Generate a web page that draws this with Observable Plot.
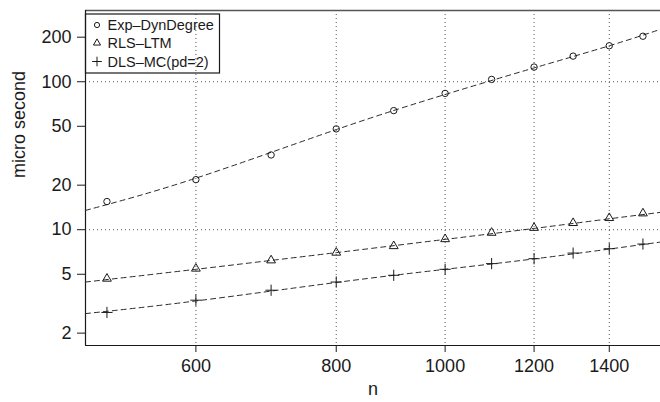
<!DOCTYPE html>
<html>
<head>
<meta charset="utf-8">
<script src="https://cdn.jsdelivr.net/npm/d3@7"></script>
<script src="https://cdn.jsdelivr.net/npm/@observablehq/plot@0.6"></script>
<style>
  html, body { margin: 0; padding: 0; background: #fff; overflow: hidden; }
  #chart { position: relative; width: 660px; height: 402px; }
  svg { font-family: "Liberation Sans", Arial, Helvetica, sans-serif; }
</style>
</head>
<body>
<div id="chart"></div>
<script>
// ---- data ----
const nValues = [500, 600, 700, 800, 900, 1000, 1100, 1200, 1300, 1400, 1500];
const expDyn  = [15.5, 21.8, 32.0, 48.0, 63.8, 83.4, 103.7, 125.7, 149, 175, 203];
const rlsLtm  = [4.67, 5.46, 6.21, 7.0, 7.75, 8.64, 9.54, 10.3, 11.1, 12.0, 12.9];
const dlsMc   = [2.76, 3.34, 3.90, 4.43, 4.92, 5.40, 5.90, 6.37, 6.95, 7.44, 8.0];

// dashed trend lines, read at these n
const nFit   = [478.5, 600, 800, 1000, 1200, 1400, 1555];
const expFit = [13.5, 22.3, 47.5, 82, 124, 175, 226];
const rlsFit = [4.43, 5.4, 7.0, 8.6, 10.2, 11.85, 13.1];
const dlsFit = [2.71, 3.3, 4.4, 5.4, 6.35, 7.4, 8.25];

const seriesNames = ["Exp\u2013DynDegree", "RLS\u2013LTM", "DLS\u2013MC(pd=2)"];
const seriesSymbols = ["circle", "triangle2", "plus"];
const seriesR = [3.2, 4.2, 3.7];
const legendR = [2.6, 3.4, 3.2];

const xTicks = [600, 800, 1000, 1200, 1400];
const yTicks = [2, 5, 10, 20, 50, 100, 200];
const yGrid = [10, 100];
const xDomain = [478.5, 1555];
const yDomain = [1.65, 303];

const pointSets = [expDyn, rlsLtm, dlsMc];
const fitSets = [expFit, rlsFit, dlsFit];

const points = [];
pointSets.forEach((vals, s) => vals.forEach((v, i) => points.push({n: nValues[i], v, s})));
const fits = [];
fitSets.forEach((vals, s) => vals.forEach((v, i) => fits.push({n: nFit[i], v, s})));

const ink = "#1a1a1a";
const tickFont = 18;

const plot = Plot.plot({
  width: 660,
  height: 402,
  marginLeft: 85,
  marginRight: 0,
  marginTop: 10,
  marginBottom: 57,
  style: {fontFamily: "'Liberation Sans', Arial, sans-serif", background: "#fff", overflow: "hidden"},
  x: {type: "log", domain: xDomain},
  y: {type: "log", domain: yDomain},
  marks: [
    Plot.gridX(xTicks, {stroke: "#555", strokeOpacity: 1, strokeDasharray: "1,3"}),
    Plot.gridY(yGrid, {stroke: "#555", strokeOpacity: 1, strokeDasharray: "1,3"}),
    Plot.ruleY([yDomain[1]], {stroke: "#555", strokeWidth: 1.4}),
    Plot.ruleY([yDomain[0]], {stroke: ink, strokeWidth: 1.2}),
    Plot.ruleX([xDomain[0]], {stroke: ink, strokeWidth: 1.2}),
    Plot.axisX({ticks: xTicks, tickFormat: d => String(d), tickSize: 7, tickPadding: 7,
      fontSize: tickFont, label: null, stroke: ink, color: ink}),
    Plot.axisY({ticks: yTicks, tickFormat: d => String(d), tickSize: 8, tickPadding: 6,
      fontSize: tickFont, label: null, stroke: ink, color: ink}),
    Plot.line(fits, {x: "n", y: "v", z: "s", curve: "natural", stroke: "#2a2a2a",
      strokeWidth: 1, strokeDasharray: "5,4"}),
    ...[0, 1, 2].map(s => Plot.dot(points.filter(d => d.s === s), {
      x: "n", y: "v", symbol: seriesSymbols[s], r: seriesR[s],
      stroke: ink, fill: "none", strokeWidth: 1})),
    Plot.text(["n"], {frameAnchor: "bottom", dy: 49, fontSize: tickFont, fill: ink}),
    Plot.text(["micro second"], {frameAnchor: "left", dx: -66, rotate: -90,
      fontSize: tickFont, fill: ink})
  ]
});

document.getElementById("chart").appendChild(plot);

// legend box drawn inside the plot area
const svg = d3.select(plot);
const lg = svg.append("g").attr("transform", "translate(85.5,14)")
  .attr("text-anchor", "start");
lg.append("rect").attr("width", 134).attr("height", 59)
  .attr("fill", "none").attr("stroke", ink).attr("stroke-width", 1.2);
const rowY = [11, 29, 47.5];
seriesNames.forEach((name, i) => {
  const sym = d3.symbol(
    i === 0 ? d3.symbolCircle : i === 1 ? d3.symbolTriangle2 : d3.symbolPlus,
    Math.PI * legendR[i] * legendR[i]);
  lg.append("path").attr("d", sym()).attr("transform", `translate(11.5,${rowY[i]})`)
    .attr("fill", "none").attr("stroke", ink).attr("stroke-width", 1);
  lg.append("text").attr("x", 22).attr("y", rowY[i]).attr("dy", "0.35em")
    .attr("text-anchor", "start")
    .attr("font-size", 14.5).attr("fill", ink).text(name);
});
</script>
</body>
</html>
